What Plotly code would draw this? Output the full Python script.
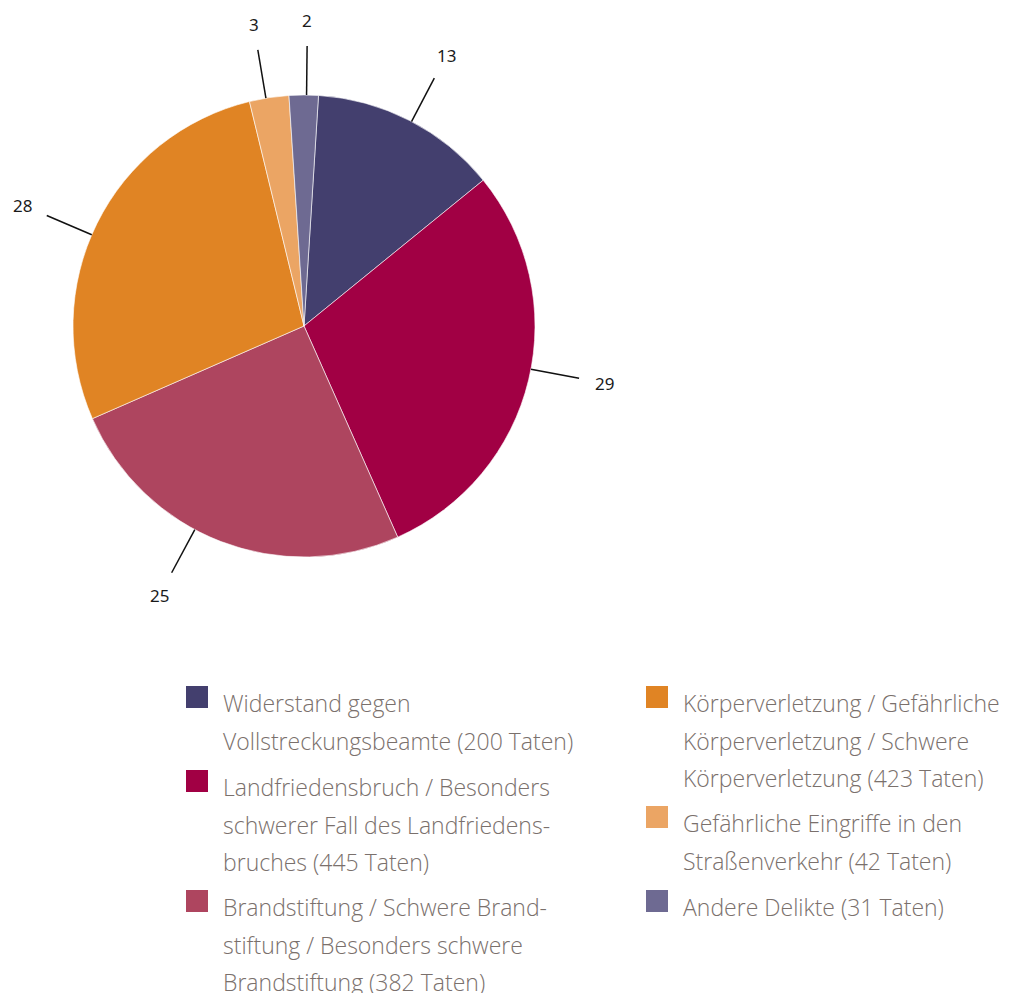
import math
import plotly.graph_objects as go

categories = [
    "Widerstand gegen Vollstreckungsbeamte",
    "Landfriedensbruch / Besonders schwerer Fall des Landfriedensbruches",
    "Brandstiftung / Schwere Brandstiftung / Besonders schwere Brandstiftung",
    "Körperverletzung / Gefährliche Körperverletzung / Schwere Körperverletzung",
    "Gefährliche Eingriffe in den Straßenverkehr",
    "Andere Delikte",
]
values = [200, 445, 382, 423, 42, 31]
percent_labels = ["13", "29", "25", "28", "3", "2"]
legend_lines = [
    ["Widerstand gegen", "Vollstreckungsbeamte (200 Taten)"],
    ["Landfriedensbruch / Besonders", "schwerer Fall des Landfriedens-", "bruches (445 Taten)"],
    ["Brandstiftung / Schwere Brand-", "stiftung / Besonders schwere", "Brandstiftung (382 Taten)"],
    ["Körperverletzung / Gefährliche", "Körperverletzung / Schwere", "Körperverletzung (423 Taten)"],
    ["Gefährliche Eingriffe in den", "Straßenverkehr (42 Taten)"],
    ["Andere Delikte (31 Taten)"],
]
colors = ["#433f6e", "#a10044", "#ae455f", "#e08424", "#eba564", "#6e6a92"]
# small angular nudges (degrees) of the outside labels, as placed in the original
label_nudge = [0.5, -2.7, 7.0, -3.1, -0.8, 0.7]

W, H = 1011, 993
OFF = 8  # page body margin
cx, cy, R = 304, 326, 231
rotation = 3.6

def px(x):
    return (x - OFF) / W

def py(y):
    return 1 - (y - OFF) / H

fig = go.Figure()
fig.add_trace(go.Pie(
    labels=categories, values=values, sort=False, direction="clockwise",
    rotation=rotation, marker=dict(colors=colors, line=dict(color="white", width=0.6)),
    textinfo="none", hoverinfo="label+value", showlegend=False,
    domain=dict(x=[px(cx - R), px(cx + R)], y=[py(cy + R), py(cy - R)]),
))

shapes = []
annotations = []
total = sum(values)
cum = 0
for v, lab, nd in zip(values, percent_labels, label_nudge):
    mid = rotation + (cum + v / 2) / total * 360 + nd
    cum += v
    a = math.radians(mid)
    sx, sy = math.sin(a), -math.cos(a)
    shapes.append(dict(type="line", xref="paper", yref="paper",
                       x0=px(cx + R * sx), y0=py(cy + R * sy),
                       x1=px(cx + 280 * sx), y1=py(cy + 280 * sy),
                       line=dict(color="#111111", width=1.5)))
    annotations.append(dict(xref="paper", yref="paper", x=px(cx + 306 * sx), y=py(cy + 306 * sy),
                            text=lab, showarrow=False, xanchor="center", yanchor="middle",
                            font=dict(family="Noto Sans", size=17, color="#1a1a1a")))

# legend (two columns)
col_x = [186, 646]
line_h = 37.5
left_top = [686, 770, 890]
right_top = [686, 806, 890]
for i, (lines, col) in enumerate(zip(legend_lines, colors)):
    c = 0 if i < 3 else 1
    top = left_top[i] if c == 0 else right_top[i - 3]
    x0 = col_x[c]
    shapes.append(dict(type="rect", xref="paper", yref="paper",
                       x0=px(x0), x1=px(x0 + 22), y0=py(top), y1=py(top + 22),
                       fillcolor=col, line=dict(width=0)))
    for j, t in enumerate(lines):
        annotations.append(dict(xref="paper", yref="paper", x=px(x0 + 35), y=py(top + 17 + j * line_h),
                                text=t, showarrow=False, xanchor="left", yanchor="middle",
                                font=dict(family="Open Sans", size=23, color="#7a706c", weight=300)))

fig.update_layout(width=W, height=H, autosize=False,
                  margin=dict(l=0, r=0, t=0, b=0),
                  paper_bgcolor="white", plot_bgcolor="white",
                  shapes=shapes, annotations=annotations)
fig.write_html("out.html")
